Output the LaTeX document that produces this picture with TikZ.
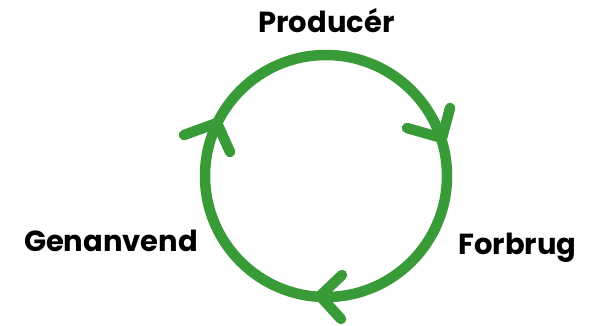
\documentclass[tikz,border=0pt]{standalone}
\usepackage{fontspec}
\setmainfont{Poppins}
\definecolor{cyclegreen}{RGB}{57,155,56}
\tikzset{
  ring/.style={draw=cyclegreen, line width=10.5pt},
  chevron/.style={draw=cyclegreen, line width=10.5pt, line cap=round, line join=round},
  lbl/.style={anchor=base, inner sep=0pt, font=\fontsize{29}{34}\selectfont\bfseries, text=black}
}
\begin{document}
\begin{tikzpicture}[x=1pt,y=-1pt]
\useasboundingbox (0,0) rectangle (596,326);
\coordinate (c) at (326,176);
\draw[ring] (c) circle[radius=121];
% arrowheads
\coordinate (rt) at (442,138);
\coordinate (ra) at (407,128);
\coordinate (rb) at (450,108);
\coordinate (lt) at (217,123);
\coordinate (la) at (184,135);
\coordinate (lb) at (230,152);
\coordinate (bt) at (320,296);
\coordinate (ba) at (342,275);
\coordinate (bb) at (341,319);
\draw[chevron] (ra) -- (rt) -- (rb);
\draw[chevron] (la) -- (lt) -- (lb);
\draw[chevron] (ba) -- (bt) -- (bb);
% labels
\node[lbl] (prod) at (326.5,33) {Producér};
\node[lbl] (gen) at (111,251) {Genanvend};
\node[lbl] (forb) at (517.5,254) {Forbrug};
\end{tikzpicture}
\end{document}
